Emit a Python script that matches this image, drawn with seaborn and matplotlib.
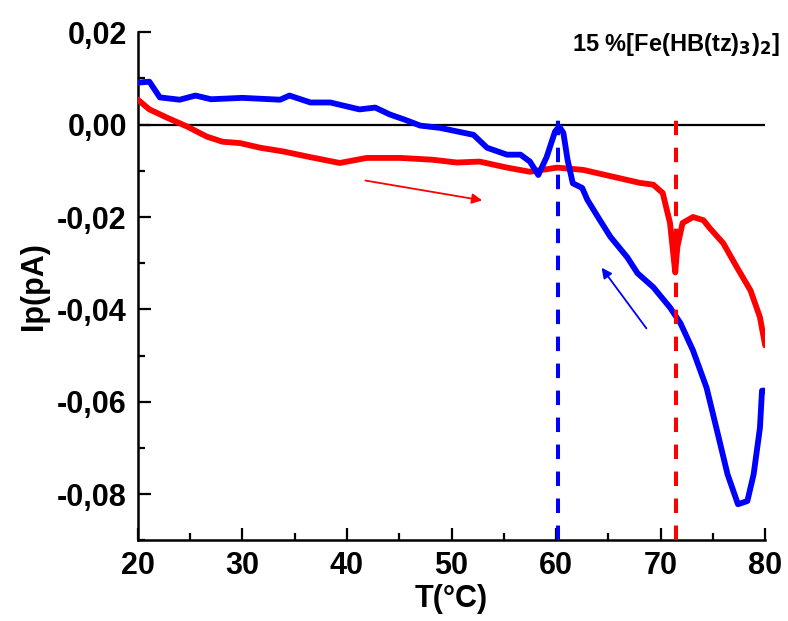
import numpy as np
import pandas as pd
import matplotlib
matplotlib.use("Agg")
import matplotlib.pyplot as plt
import matplotlib.ticker as mticker
import seaborn as sns

# ── Data ────────────────────────────────────────────────────────────────────
heat_T = [20.0, 21.1, 22.8, 24.7, 26.6, 28.1, 29.8, 31.7, 33.9, 36.2, 39.3,
          41.9, 45.1, 48.2, 50.5, 52.7, 55.3, 57.5, 60.1, 62.6, 65.5, 68.0,
          69.3, 70.2, 70.9, 71.4, 71.6, 72.1, 73.1, 74.1, 74.7, 76.0, 77.3,
          78.6, 79.5, 80.0]
heat_Ip = [0.0054, 0.0033, 0.0015, -0.0004, -0.0026, -0.0037, -0.0040,
           -0.0050, -0.0058, -0.0069, -0.0083, -0.0072, -0.0072, -0.0076,
           -0.0082, -0.0080, -0.0093, -0.0102, -0.0093, -0.0098, -0.0113,
           -0.0126, -0.0130, -0.0148, -0.0213, -0.0320, -0.0265, -0.0213,
           -0.0200, -0.0207, -0.0224, -0.0257, -0.0309, -0.0359, -0.0417,
           -0.0478]

cool_T = [20.0, 21.1, 22.1, 24.0, 25.5, 27.0, 30.0, 33.6, 34.5, 36.5, 38.4,
          41.2, 42.7, 44.1, 45.5, 47.0, 48.9, 52.1, 53.4, 55.3, 56.6, 57.5,
          58.3, 59.1, 59.9, 60.3, 60.7, 61.1, 61.6, 62.5, 63.0, 64.2, 65.2,
          66.8, 67.8, 69.3, 70.9, 71.9, 73.1, 74.4, 75.4, 76.4, 77.4, 78.3,
          78.9, 79.5, 79.7, 80.0]
cool_Ip = [0.0091, 0.0093, 0.0059, 0.0054, 0.0063, 0.0055, 0.0058, 0.0054,
           0.0063, 0.0048, 0.0048, 0.0033, 0.0037, 0.0022, 0.0011, -0.0002,
           -0.0007, -0.0022, -0.0050, -0.0065, -0.0065, -0.0080, -0.0109,
           -0.0070, -0.0015, -0.0004, -0.0018, -0.0076, -0.0127, -0.0137,
           -0.0163, -0.0207, -0.0243, -0.0287, -0.0322, -0.0352, -0.0396,
           -0.0430, -0.0489, -0.0570, -0.0663, -0.0757, -0.0822, -0.0815,
           -0.0757, -0.0657, -0.0576, -0.0576]

T_cool_peak = 60.2
T_heat_dip = 71.5

x_ticks = [20, 30, 40, 50, 60, 70, 80]
y_ticks = [-0.08, -0.06, -0.04, -0.02, 0.00, 0.02]

heat = pd.DataFrame({"T": heat_T, "Ip": heat_Ip})
cool = pd.DataFrame({"T": cool_T, "Ip": cool_Ip})

# ── Plot ────────────────────────────────────────────────────────────────────
sns.set_style("ticks")
plt.rcParams["font.family"] = ["Liberation Sans", "DejaVu Sans"]
plt.rcParams["font.weight"] = "bold"
plt.rcParams["mathtext.default"] = "regular"
for key in ["text.color", "axes.labelcolor", "xtick.color", "ytick.color",
            "axes.edgecolor"]:
    plt.rcParams[key] = "black"

fig = plt.figure(figsize=(7.88, 6.21), dpi=100)
ax = fig.add_axes([0.175, 0.130, 0.796, 0.818])

ax.axhline(0, color="black", lw=1.6, zorder=1)
sns.lineplot(data=heat, x="T", y="Ip", sort=False, color="#ff0000", lw=4.2,
             ax=ax, zorder=3)
sns.lineplot(data=cool, x="T", y="Ip", sort=False, color="#0000ff", lw=4.2,
             ax=ax, zorder=3)

ax.vlines(T_cool_peak, -0.09, 0.0025, colors="#0000ff", linestyles=(0, (3.6, 3.1)),
          lw=2.9, zorder=4)
ax.vlines(T_heat_dip, -0.09, 0.0025, colors="#ff0000", linestyles=(0, (3.6, 3.1)),
          lw=2.9, zorder=4)

ax.annotate("", xy=(53.2, -0.0165), xytext=(41.5, -0.012),
            arrowprops=dict(arrowstyle="-|>", color="#ff0000", lw=1.3,
                            mutation_scale=15))
ax.annotate("", xy=(64.2, -0.0305), xytext=(68.8, -0.0446),
            arrowprops=dict(arrowstyle="-|>", color="#0000ff", lw=1.3,
                            mutation_scale=15))

ax.text(1.024, 0.975, r"15 %[Fe(HB(tz)$_{\mathbf{3}}$)$_{\mathbf{2}}$]",
        transform=ax.transAxes, ha="right", va="center", fontsize=17,
        fontweight="bold", color="black", clip_on=False)

ax.set_xlim(20, 80)
ax.set_ylim(-0.09, 0.02)
ax.set_xticks(x_ticks)
ax.set_yticks(y_ticks)
ax.xaxis.set_minor_locator(mticker.MultipleLocator(5))
ax.yaxis.set_minor_locator(mticker.MultipleLocator(0.01))
ax.set_xticklabels([str(t) for t in x_ticks])
ax.set_yticklabels([f"{t:.2f}".replace(".", ",").replace("-0,00", "0,00") for t in y_ticks])
ax.tick_params(which="major", direction="in", length=9, width=1.6, labelsize=22,
               pad=8, colors="black")
ax.tick_params(which="minor", direction="in", length=5, width=1.6, colors="black")
for lab in ax.get_xticklabels() + ax.get_yticklabels():
    lab.set_fontweight("bold")

ax.set_xlabel("T(°C)", fontsize=22, fontweight="bold", labelpad=2, color="black")
ax.set_ylabel("Ip(pA)", fontsize=22, fontweight="bold", labelpad=6, color="black")

for side in ["top", "right"]:
    ax.spines[side].set_visible(False)
for side in ["left", "bottom"]:
    ax.spines[side].set_linewidth(1.8)
    ax.spines[side].set_color("black")

fig.savefig("out.png", dpi=100)
